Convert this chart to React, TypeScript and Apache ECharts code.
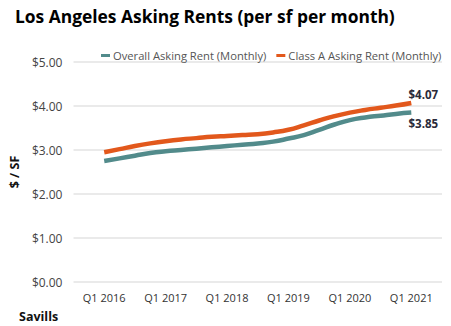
import React, { useEffect, useRef } from "react";
import * as echarts from "echarts";

const years = ["Q1 2016", "Q1 2017", "Q1 2018", "Q1 2019", "Q1 2020", "Q1 2021"];
const quarterOffsets = [0, 0.25, 0.5, 0.75, 1, 1.25, 1.5, 1.75, 2, 2.25, 2.5, 2.75, 3, 3.25, 3.5, 3.75, 4, 4.25, 4.5, 4.75, 5];
const overallRent = [2.75, 2.81, 2.87, 2.93, 2.97, 3.0, 3.03, 3.06, 3.09, 3.12, 3.15, 3.19, 3.26, 3.34, 3.46, 3.58, 3.68, 3.74, 3.78, 3.82, 3.85];
const classARent = [2.95, 3.02, 3.09, 3.15, 3.2, 3.24, 3.27, 3.3, 3.32, 3.34, 3.36, 3.4, 3.46, 3.56, 3.67, 3.77, 3.85, 3.91, 3.96, 4.01, 4.07];
const yTicks = [0, 1, 2, 3, 4, 5];

const TEAL = "#528b8b";
const ORANGE = "#e2581c";

export default function App() {
  const ref = useRef<HTMLDivElement>(null);
  useEffect(() => {
    if (!ref.current) return;
    const chart = echarts.init(ref.current, undefined, { renderer: "svg" });
    const pts = (vals: number[]) => vals.map((v, i) => [quarterOffsets[i], v]);
    const endLabel = (vals: number[], dy: number) => ({
      show: true,
      formatter: "$" + vals[vals.length - 1].toFixed(2),
      distance: 0,
      align: "center",
      verticalAlign: "middle",
      offset: [12, dy],
      fontFamily: "Open Sans",
      fontWeight: "bold",
      fontSize: 11.5,
      color: "#2b2b3a",
    });
    chart.setOption({
      animation: false,
      title: {
        text: "Los Angeles Asking Rents (per sf per month)",
        left: 10,
        top: 2,
        textStyle: { fontFamily: "Open Sans", fontWeight: "bold", fontSize: 17.4, color: "#000" },
      },
      legend: {
        top: 45,
        left: 96,
        itemWidth: 9,
        itemHeight: 3,
        itemGap: 10,
        icon: "rect",
        textStyle: { fontFamily: "Open Sans", fontSize: 11.2, color: "#555", padding: [0, 0, 0, -2] },
        data: ["Overall Asking Rent (Monthly)", "Class A Asking Rent (Monthly)"],
      },
      grid: { left: 64, right: 9, top: 62, bottom: 44 },
      xAxis: {
        type: "value",
        min: -0.5,
        max: 5.5,
        splitLine: { show: false },
        axisLine: { show: false },
        axisTick: { show: false },
        axisLabel: {
          customValues: [0, 1, 2, 3, 4, 5],
          formatter: (v: number) => years[Math.round(v)] ?? "",
          fontFamily: "Open Sans",
          fontSize: 11,
          color: "#333",
          margin: 10,
        },
      },
      yAxis: {
        type: "value",
        min: 0,
        max: 5,
        interval: 1,
        name: "$ / SF",
        nameLocation: "middle",
        nameGap: 46,
        nameTextStyle: { fontFamily: "Open Sans", fontWeight: "bold", fontSize: 12.5, color: "#111" },
        axisLine: { show: false },
        axisTick: { show: false },
        splitLine: { lineStyle: { color: "#e3e3e3", width: 1.5 } },
        axisLabel: {
          formatter: (v: number) => (yTicks.includes(v) ? "$" + v.toFixed(2) : ""),
          fontFamily: "Open Sans",
          fontSize: 12,
          color: "#444",
          margin: 11,
        },
      },
      series: [
        {
          name: "Overall Asking Rent (Monthly)",
          type: "line",
          smooth: true,
          showSymbol: false,
          symbol: "none",
          color: TEAL,
          lineStyle: { width: 4.5, color: TEAL },
          data: pts(overallRent),
          endLabel: endLabel(overallRent, 11),
        },
        {
          name: "Class A Asking Rent (Monthly)",
          type: "line",
          smooth: true,
          showSymbol: false,
          symbol: "none",
          color: ORANGE,
          lineStyle: { width: 4.5, color: ORANGE },
          data: pts(classARent),
          endLabel: endLabel(classARent, -8),
        },
      ],
      graphic: [
        {
          type: "text",
          left: 19,
          top: 310,
          style: { text: "Savills", fontFamily: "Open Sans", fontWeight: "bold", fontSize: 12.5, fill: "#111" },
        },
      ],
    });
    return () => chart.dispose();
  }, []);
  return <div ref={ref} style={{ width: 451, height: 326, position: "absolute", left: 0, top: 0 }} />;
}
